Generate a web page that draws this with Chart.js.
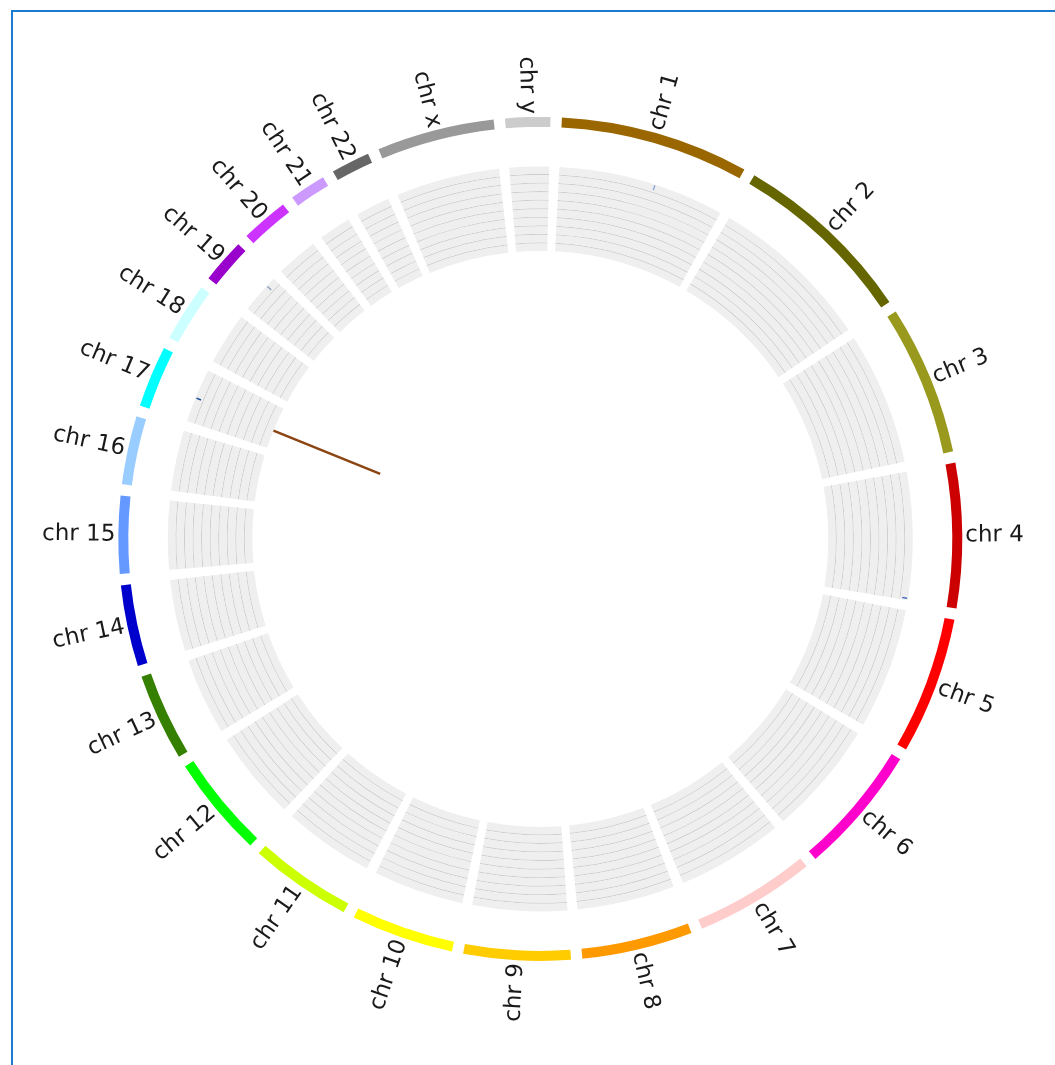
<!DOCTYPE html>
<html>
<head>
<meta charset="utf-8">
<title>Genome circos</title>
<script src="https://cdn.jsdelivr.net/npm/chart.js@4.4.1/dist/chart.umd.min.js"></script>
<style>
  html, body { margin: 0; padding: 0; background: #fff; overflow: hidden; }
  #frame { position: absolute; left: 11px; top: 10px; width: 1200px; height: 1200px; border: 2px solid #1b7bd3; box-sizing: border-box; }
  #circos { position: absolute; left: 0; top: 0; }
</style>
</head>
<body>
<div id="frame"></div>
<canvas id="circos" width="1055" height="1065"></canvas>
<script>
// chromosomes (hg19, Mb)
const chrLabels = ["chr 1", "chr 2", "chr 3", "chr 4", "chr 5", "chr 6", "chr 7", "chr 8",
  "chr 9", "chr 10", "chr 11", "chr 12", "chr 13", "chr 14", "chr 15", "chr 16",
  "chr 17", "chr 18", "chr 19", "chr 20", "chr 21", "chr 22", "chr x", "chr y"];
const chrLengths = [249.25, 243.2, 198.02, 191.15, 180.92, 171.12, 159.14, 146.36,
  141.21, 135.53, 135.01, 133.85, 115.17, 107.35, 102.53, 90.35,
  81.2, 78.08, 59.13, 63.03, 48.13, 51.3, 155.27, 59.37];
const chrColors = ["#996600", "#666600", "#99991e", "#cc0000", "#ff0000", "#ff00cc", "#ffcccc", "#ff9900",
  "#ffcc00", "#ffff00", "#ccff00", "#00ff00", "#358000", "#0000cc", "#6699ff", "#99ccff",
  "#00ffff", "#ccffff", "#9900cc", "#cc33ff", "#cc99ff", "#666666", "#999999", "#cccccc"];
const GAP_MB = 14.9;

// snp track (chromosome index, position in Mb, value 0-100)
const snpChr = [0, 3, 16, 18];
const snpPos = [144, 188, 36.8, 44.4];
const snpValue = [96, 96, 96, 96];
const snpColors = ["#8aa6d9", "#4f74c4", "#1d4f9e", "#8f9fc0"];

// inward bars (value = % of the inner radius)
const barChr = [16];
const barPos = [35.2];
const barValue = [40];
const barColors = ["#8b4513"];

const NONE = "rgba(0,0,0,0)";
const segData = [];
chrLengths.forEach(len => segData.push(len, GAP_MB));

function perChr(color) {
  const out = [];
  chrLengths.forEach(() => out.push(color, NONE));
  return out;
}

function ring(label, colors, weight) {
  return {
    label: label,
    data: segData,
    backgroundColor: colors,
    borderWidth: 0,
    hoverBorderWidth: 0,
    hoverOffset: 0,
    offset: 0,
    weight: weight
  };
}

const datasets = [];
datasets.push(ring("ideogram", chrColors.flatMap(c => [c, NONE]), 10));
datasets.push(ring("spacer", NONE, 39.5));
for (let i = 0; i < 10; i++) {
  datasets.push(ring("band", perChr("#efefef"), 7.55));
  if (i < 9) datasets.push(ring("grid", perChr("#cdcdcd"), 1));
}

const circosDecor = {
  id: "circosDecor",
  afterDatasetsDraw(chart) {
    const ctx = chart.ctx;
    const ideo = chart.getDatasetMeta(0).data;
    const top = chart.getDatasetMeta(2).data[0];
    const bottom = chart.getDatasetMeta(chart.data.datasets.length - 1).data[0];
    const cx = ideo[0].x, cy = ideo[0].y;
    const rIn = bottom.innerRadius, rOut = top.outerRadius;

    function angleAt(chr, pos) {
      const arc = ideo[chr * 2];
      return arc.startAngle + (pos / chrLengths[chr]) * (arc.endAngle - arc.startAngle);
    }

    function radial(a, r1, r2, color, width) {
      ctx.beginPath();
      ctx.moveTo(cx + Math.cos(a) * r1, cy + Math.sin(a) * r1);
      ctx.lineTo(cx + Math.cos(a) * r2, cy + Math.sin(a) * r2);
      ctx.strokeStyle = color;
      ctx.lineWidth = width;
      ctx.stroke();
    }

    ctx.save();
    ctx.lineCap = "butt";
    snpChr.forEach((c, i) => {
      const a = angleAt(c, snpPos[i]);
      const r = rIn + snpValue[i] / 100 * (rOut - rIn);
      radial(a, r - 2.5, r + 2.5, snpColors[i], 1.5);
    });
    barChr.forEach((c, i) => {
      const a = angleAt(c, barPos[i]);
      radial(a, rIn, rIn - barValue[i] / 100 * rIn, barColors[i], 2.5);
    });

    // chromosome names, turned so they stay readable
    ctx.font = "23px 'DejaVu Sans'";
    ctx.fillStyle = "#1a1a1a";
    ctx.textBaseline = "middle";
    chrLabels.forEach((lab, i) => {
      const arc = ideo[i * 2];
      const mid = (arc.startAngle + arc.endAngle) / 2;
      const r = arc.outerRadius + 3;
      ctx.save();
      ctx.translate(cx, cy);
      if (Math.cos(mid) >= 0) {
        ctx.rotate(mid);
        ctx.textAlign = "left";
        ctx.fillText(lab, r, 0);
      } else {
        ctx.rotate(mid + Math.PI);
        ctx.textAlign = "right";
        ctx.fillText(lab, -r, 0);
      }
      ctx.restore();
    });
    ctx.restore();
  }
};

new Chart(document.getElementById("circos"), {
  type: "doughnut",
  data: { labels: chrLabels.flatMap(l => [l, ""]), datasets: datasets },
  options: {
    responsive: false,
    animation: false,
    events: [],
    rotation: 2.94,
    radius: 422,
    cutout: (288 / 422 * 100) + "%",
    layout: { padding: { left: 118.3, right: 92.7, top: 116.9, bottom: 104.1 } },
    elements: { arc: { borderWidth: 0, hoverBorderWidth: 0, hoverOffset: 0 } },
    plugins: { legend: { display: false }, tooltip: { enabled: false } }
  },
  plugins: [circosDecor]
});
</script>
</body>
</html>
